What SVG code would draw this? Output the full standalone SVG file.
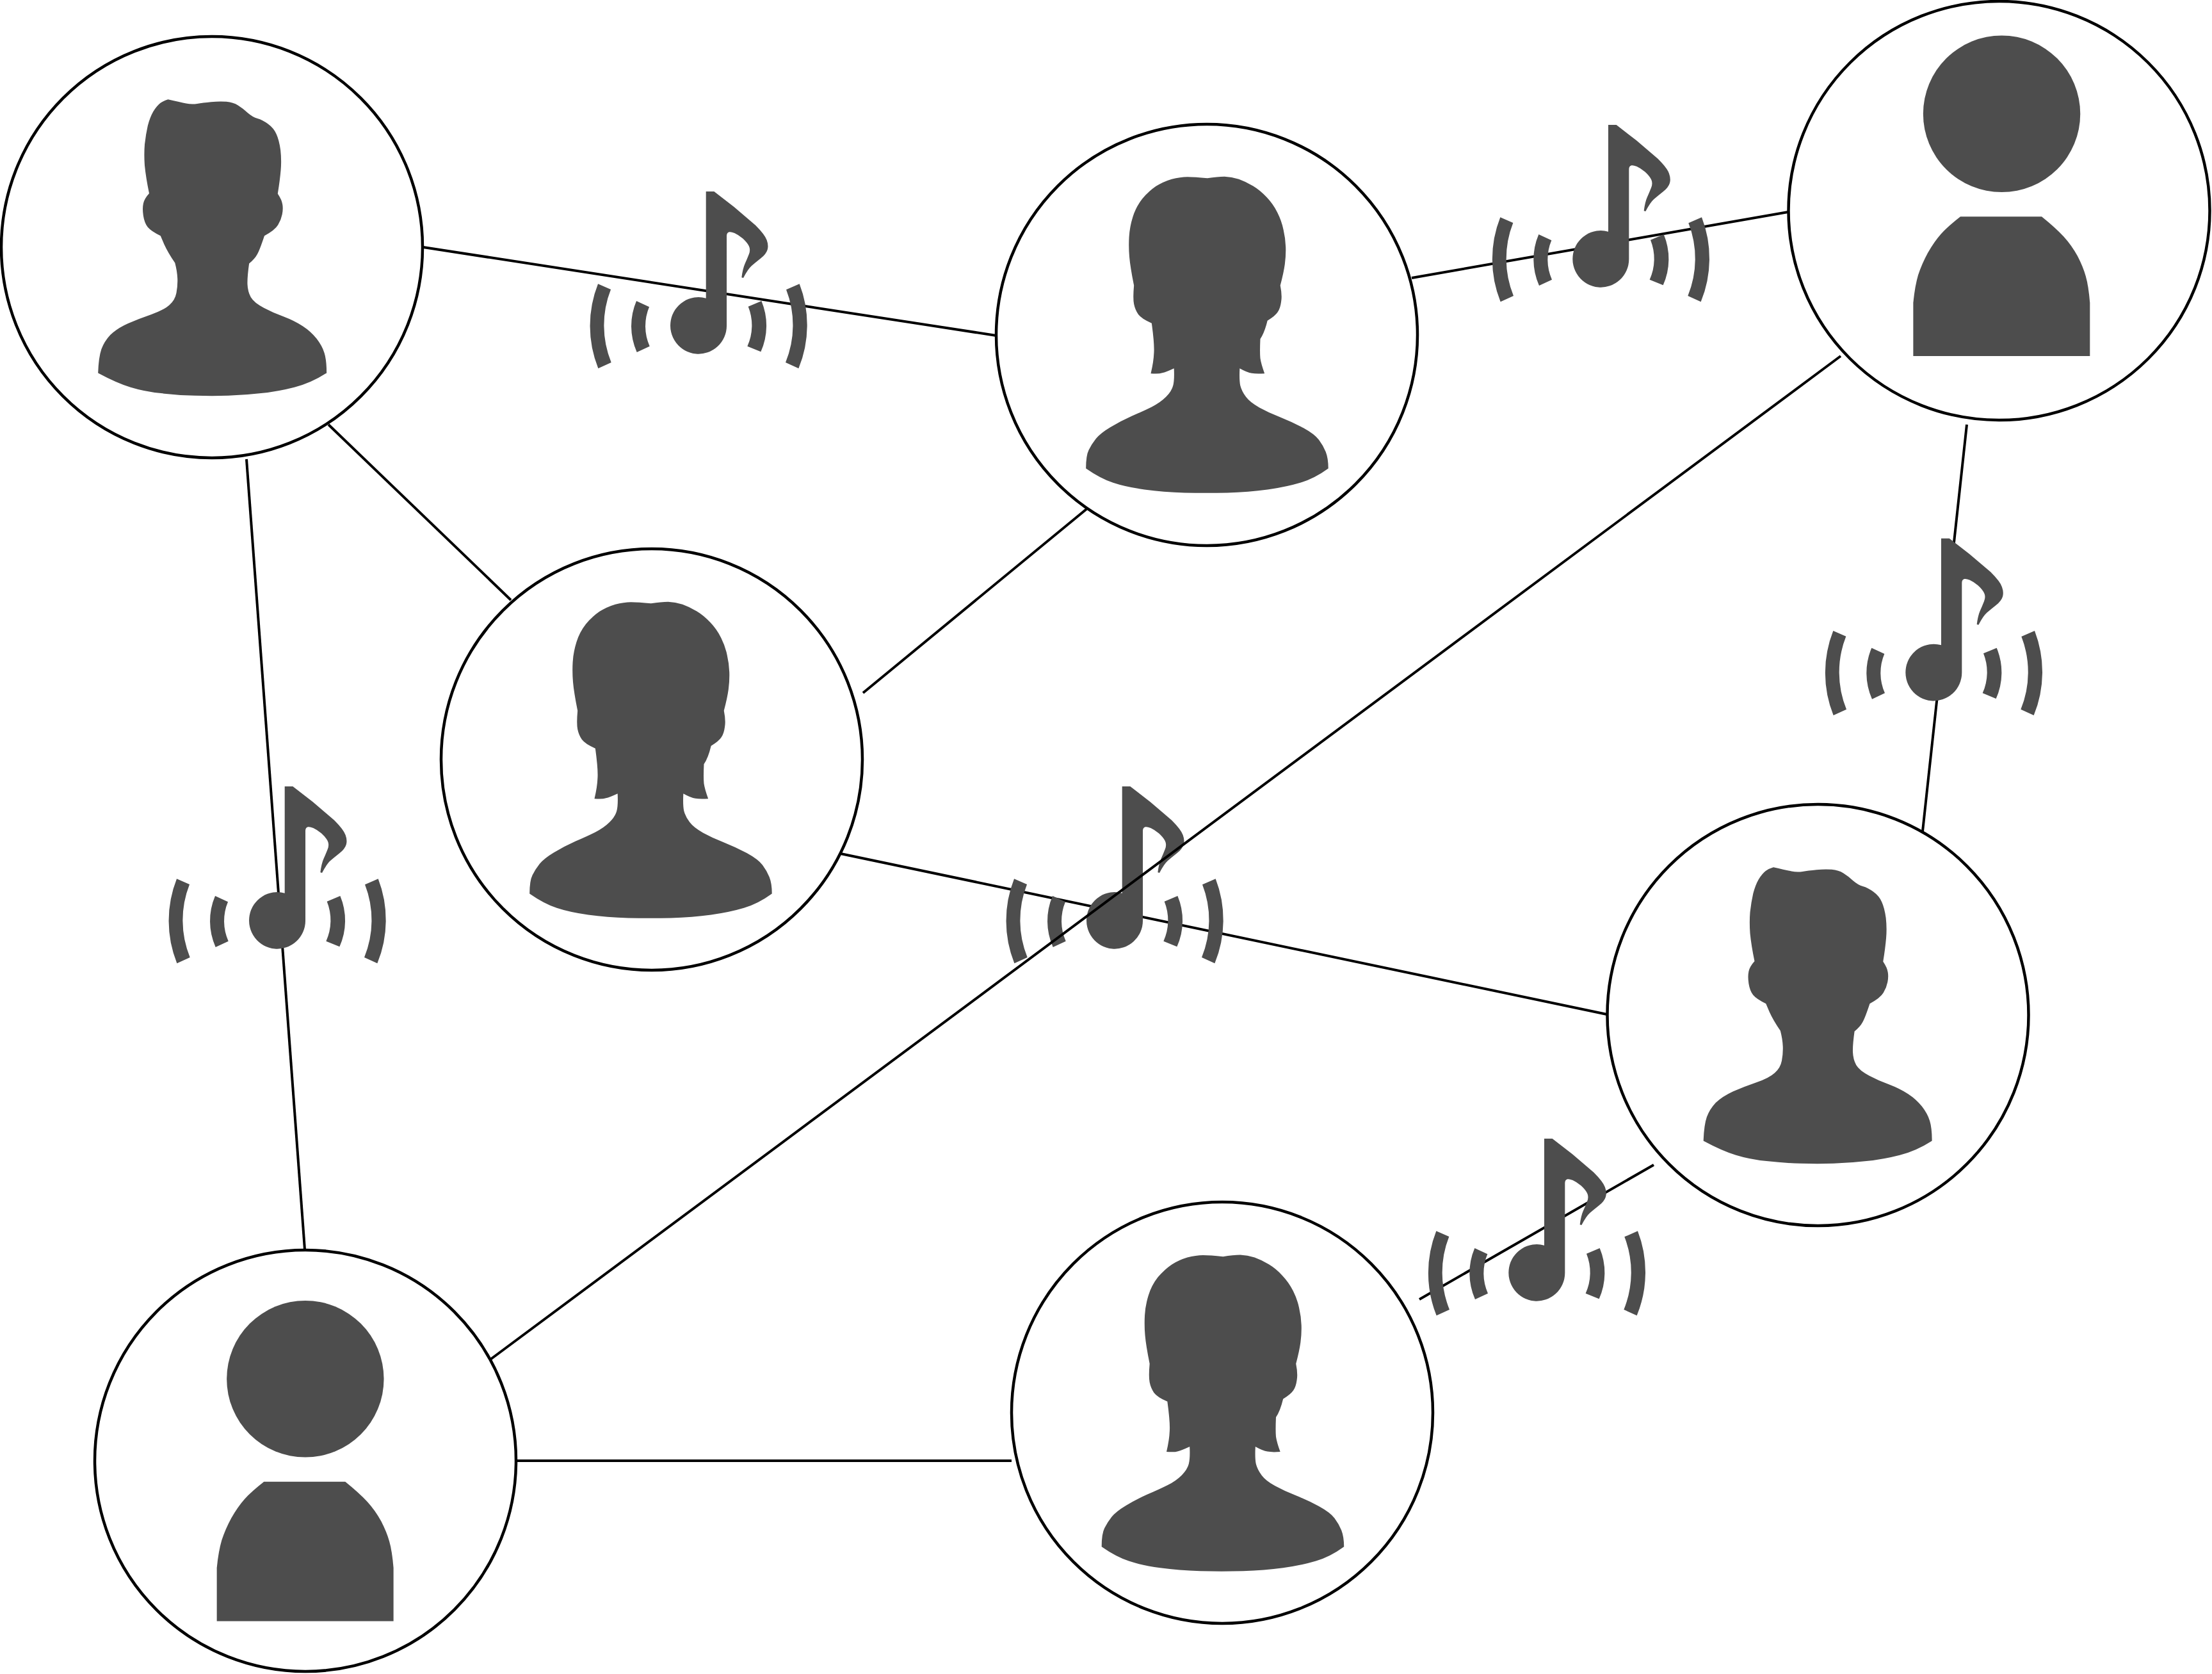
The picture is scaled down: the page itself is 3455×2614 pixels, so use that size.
<svg xmlns="http://www.w3.org/2000/svg" width="3455" height="2614" viewBox="0 0 3455 2614">
<style>
.ring{fill:#fff;stroke:#000;stroke-width:4.5}
.link{stroke:#000;stroke-width:4;fill:none}
.ink{fill:#4d4d4d}
</style>
<defs>
<path id="man" class="ink" d="M605 258Q650 268 670 272Q690 276 710 273Q730 270 760 267Q790 264 815 266Q840 268 857 279Q875 290 892 305Q910 320 927 325Q945 330 965 344Q985 358 995 379Q1005 400 1010 435Q1014 470 1011 505Q1008 540 1000 588Q1015 610 1017 625Q1020 640 1016 660Q1012 680 1001 697Q990 715 952 735Q935 785 926 800Q918 815 897 832Q890 880 891 905Q892 930 903 950Q915 970 950 987Q985 1005 1022 1018Q1060 1032 1090 1051Q1120 1070 1140 1095Q1160 1120 1168 1145Q1176 1170 1176 1215Q1120 1250 1060 1265Q1000 1280 940 1286Q880 1293 822 1294Q765 1296 702 1294Q640 1293 580 1286Q520 1280 470 1265Q420 1250 353 1215Q355 1160 365 1132Q375 1105 397 1082Q420 1060 460 1042Q500 1025 545 1010Q590 995 610 977Q630 960 635 935Q640 910 639 885Q638 860 630 830Q605 795 591 765L578 735Q545 720 532 705Q520 690 516 665Q512 640 516 622Q520 605 537 587Q525 530 521 490Q518 450 521 415Q525 380 532 350Q540 320 552 300Q565 280 577 271Q590 262 605 258Z"/>
<path id="woman" class="ink" d="M775 220Q810 214 835 214Q860 215 885 223Q910 232 935 247Q960 262 982 286Q1005 310 1020 340Q1035 370 1041 400Q1048 430 1049 460Q1050 490 1046 520Q1042 550 1030 595Q1037 630 1033 652Q1030 675 1021 688Q1012 702 985 718Q975 760 960 782Q958 830 960 850Q963 870 975 903Q945 905 930 902Q915 900 888 885Q886 925 890 945Q895 965 910 985Q925 1005 957 1022Q990 1040 1030 1056Q1070 1072 1110 1093Q1150 1115 1165 1135Q1180 1155 1189 1177Q1198 1200 1198 1235Q1150 1270 1100 1285Q1050 1300 985 1309Q920 1318 845 1320Q770 1322 695 1320Q620 1318 555 1309Q490 1300 445 1285Q400 1270 350 1235Q350 1190 360 1170Q370 1150 385 1131Q400 1112 435 1091Q470 1070 510 1052Q550 1035 580 1020Q610 1005 630 985Q650 965 655 945Q660 925 658 885Q630 898 617 901Q605 905 577 903Q587 860 588 830Q590 800 580 727Q545 712 533 696Q522 680 518 660Q514 640 518 595Q505 530 502 495Q499 460 501 425Q503 390 514 355Q525 320 547 292Q570 265 595 248Q620 232 650 223Q680 215 705 215Q730 215 775 220Z"/>
<g id="neutral" class="ink">
<ellipse cx="805" cy="410" rx="285" ry="282"/>
<path d="M655 780L950 780Q1000 820 1030 852Q1060 885 1080 922Q1100 960 1110 995Q1120 1030 1125 1090L1125 1282L484 1282L484 1090Q490 1030 502 990Q515 950 537 910Q560 870 585 842Q610 815 655 780Z"/>
</g>
<g id="note" class="ink">
<path d="M668 87L706 87L800 160L900 245Q945 290 953 315Q962 340 956 360Q950 380 925 400Q900 420 882 435Q865 450 843 492L835 490Q840 450 850 427Q860 405 869 382Q878 360 869 342Q860 325 840 307Q820 290 802 282Q785 275 777 277Q765 280 765 295L765 715A132 133 0 1 1 668 587Z"/>
<path d="M162 520A535 535 0 0 0 163 916L224 888A460 460 0 0 1 222 546Z"/>
<path d="M342 600A300 300 0 0 0 344 840L404 812A232 232 0 0 1 402 628Z"/>
<path d="M928 600A300 300 0 0 1 925 838L862 812A237 237 0 0 0 866 626Z"/>
<path d="M1106 520A535 535 0 0 1 1102 916L1041 888A460 460 0 0 0 1044 547Z"/>
</g>
</defs>
<rect width="3455" height="2614" fill="#fff"/>
<g id="connectors">
<line class="link" x1="661" y1="386" x2="1556" y2="524"/>
<line class="link" x1="2205" y1="434" x2="2793" y2="331"/>
<line class="link" x1="385" y1="717" x2="476" y2="1951"/>
<line class="link" x1="513" y1="663" x2="798" y2="937"/>
<line class="link" x1="1697" y1="795" x2="1348" y2="1082"/>
<line class="link" x1="1313" y1="1333" x2="2510" y2="1584"/>
<line class="link" x1="3072" y1="663" x2="3003" y2="1298"/>
<line class="link" x1="2583" y1="1819" x2="2217" y2="2029"/>
<line class="link" x1="806" y1="2281" x2="1580" y2="2281"/>
</g>
<g id="node-1"><circle class="ring" cx="331" cy="386" r="329"/><use href="#man" transform="translate(331 386) scale(.4337 .4464) translate(-763 -775)"/></g>
<g id="node-2"><circle class="ring" cx="1885" cy="523" r="329"/><use href="#woman" transform="translate(1885 523) scale(.4464) translate(-773 -768)"/></g>
<g id="node-3"><ellipse class="ring" cx="3122.5" cy="329" rx="329" ry="327"/><use href="#neutral" transform="translate(2780 0) scale(.4305 .4337)"/></g>
<g id="node-4"><circle class="ring" cx="1018" cy="1186" r="329"/><use href="#woman" transform="translate(1016 1187) scale(.4464) translate(-773 -768)"/></g>
<g id="node-5"><circle class="ring" cx="2839.5" cy="1585" r="329"/><use href="#man" transform="translate(2838.5 1585) scale(.4337 .4464) translate(-763 -775)"/></g>
<g id="node-6"><circle class="ring" cx="477" cy="2281" r="329"/><use href="#neutral" transform="translate(130.3 1975.5) scale(.4305 .4337)"/></g>
<g id="node-7"><circle class="ring" cx="1909" cy="2206" r="329"/><use href="#woman" transform="translate(1909.5 2206.8) scale(.4464) translate(-773 -768)"/></g>
<g id="notes">
<use href="#note" transform="translate(1102.7 299) scale(.3333) translate(-668 -87)"/>
<use href="#note" transform="translate(2512 195) scale(.3333) translate(-668 -87)"/>
<use href="#note" transform="translate(3032 840.7) scale(.3333) translate(-668 -87)"/>
<use href="#note" transform="translate(444.7 1228) scale(.3333) translate(-668 -87)"/>
<use href="#note" transform="translate(1752.7 1228) scale(.3333) translate(-668 -87)"/>
<use href="#note" transform="translate(2412 1778) scale(.3333) translate(-668 -87)"/>
</g>
<g id="connector-over">
<line class="link" x1="2875" y1="556" x2="767" y2="2122"/>
</g>
</svg>
